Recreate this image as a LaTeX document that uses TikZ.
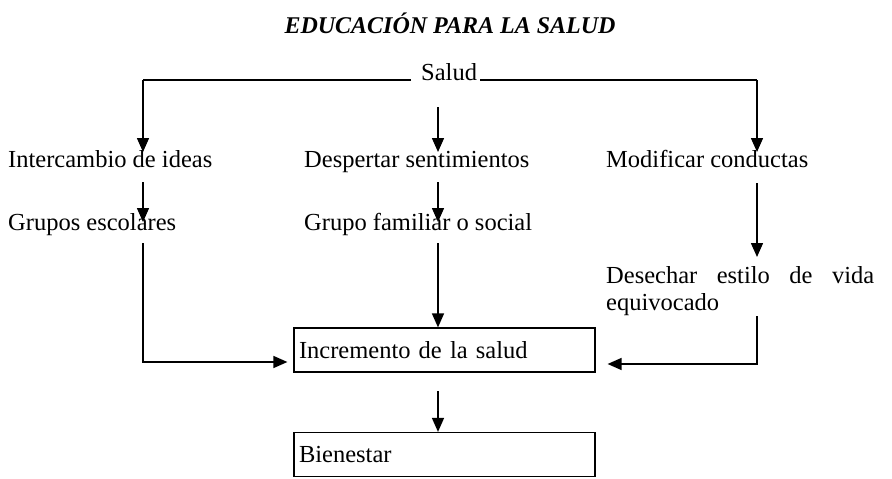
\documentclass[tikz,border=0pt]{standalone}
\usepackage{fontspec}
\setmainfont{Liberation Serif}
\usetikzlibrary{arrows.meta}
\begin{document}
\begin{tikzpicture}[x=1pt,y=-1pt,
  lbl/.style={anchor=base west, inner sep=0pt, font=\fontsize{24.5}{27}\selectfont},
  ttl/.style={anchor=base, inner sep=0pt, font=\fontsize{24}{28}\selectfont\bfseries\itshape},
  wire/.style={line width=1.5pt},
  conn/.style={line width=1.5pt, -{Triangle[width=12pt,length=14pt]}},
  box/.style={draw, line width=1.2pt, minimum width=301pt, minimum height=44pt,
    text width=291pt, inner sep=5pt, align=left, font=\fontsize{24.5}{27}\selectfont}]
\useasboundingbox (0,0) rectangle (892,479);
% title
\node[ttl] (title) at (450,34) {EDUCACIÓN PARA LA SALUD};
% root
\node[lbl] (salud) at (421,80) {Salud};
\coordinate (hl) at (143,80);
\coordinate (hr) at (757,80);
\coordinate (sl) at (411,80);
\coordinate (sr) at (480,80);
% row 1
\node[lbl] (inter) at (8,167) {Intercambio de ideas};
\node[lbl] (desp) at (304,167) {Despertar sentimientos};
\node[lbl] (modi) at (606,167) {Modificar conductas};
% row 2
\node[lbl] (grupe) at (8,230) {Grupos escolares};
\node[lbl] (grupf) at (304,230) {Grupo familiar o social};
\node[lbl] (dese) at (606,283) {\makebox[268pt][s]{Desechar estilo de vida}};
\node[lbl] (equi) at (606,310) {equivocado};
% boxes
\node[box] (inc) at (444.5,350) {Incremento de la salud};
\node[box] (bien) at (444.5,454.5) {Bienestar};
% connectors from Salud
\draw[wire] (sl) -- (hl);
\draw[conn] (hl) -- (143,152) coordinate (t1);
\draw[wire] (sr) -- (hr);
\draw[conn] (hr) -- (757,152) coordinate (t3);
\coordinate (m0) at (438,107);
\draw[conn] (m0) -- (438,152) coordinate (t2);
% row1 -> row2
\coordinate (a1) at (143,182);
\draw[conn] (a1) -- (143,222) coordinate (b1);
\coordinate (a2) at (438,182);
\draw[conn] (a2) -- (438,222) coordinate (b2);
\coordinate (a3) at (757,183);
\draw[conn] (a3) -- (757,257) coordinate (b3);
% to Incremento
\coordinate (c1) at (143,243);
\coordinate (d1) at (143,362);
\draw[conn, shorten >=6pt] (c1) -- (d1) -- (inc.west |- d1);
\coordinate (c2) at (438,243);
\draw[conn] (c2) -- (inc.north -| c2);
\coordinate (c3) at (757,316);
\coordinate (d3) at (757,364);
\draw[conn, shorten >=12pt] (c3) -- (d3) -- (inc.east |- d3);
% to Bienestar
\coordinate (e1) at (438,391);
\draw[conn] (e1) -- (bien.north -| e1);
\end{tikzpicture}
\end{document}
